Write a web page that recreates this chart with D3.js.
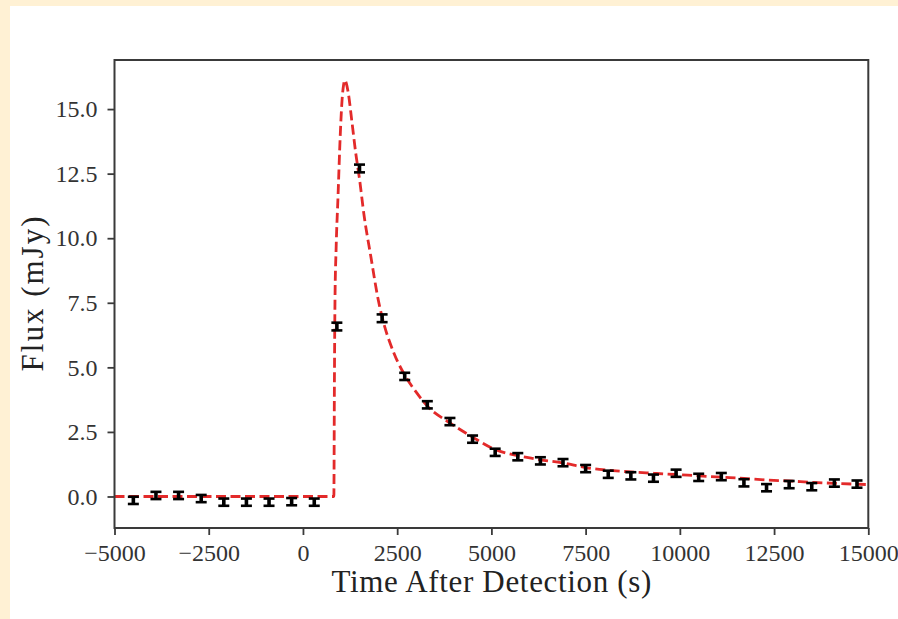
<!DOCTYPE html>
<html>
<head>
<meta charset="UTF-8">
<script src="https://d3js.org/d3.v7.min.js"></script>
<style>
  body { margin: 0; background: #fff1d4; }
  svg { display: block; }
  .tick text { font-family: "Liberation Serif", serif; font-size: 24px; fill: #333; }
  .tick line { stroke: #3a3a3a; stroke-width: 1.8; }
</style>
</head>
<body>
<div id="chart"></div>
<script>
// observed points (time in s after detection, flux in mJy, 1-sigma error)
var obsTime = [-4500, -3900, -3300, -2700, -2100, -1500, -900, -300, 300,
  900, 1500, 2100, 2700, 3300, 3900, 4500, 5100, 5700, 6300, 6900, 7500,
  8100, 8700, 9300, 9900, 10500, 11100, 11700, 12300, 12900, 13500, 14100, 14700];
var obsFlux = [-0.15, 0.04, 0.04, -0.08, -0.22, -0.22, -0.22, -0.2, -0.22,
  6.58, 12.7, 6.9, 4.65, 3.55, 2.9, 2.22, 1.71, 1.54, 1.38, 1.31, 1.08,
  0.86, 0.8, 0.71, 0.9, 0.74, 0.77, 0.53, 0.34, 0.46, 0.38, 0.52, 0.48];
var obsErr = [0.14, 0.14, 0.14, 0.14, 0.14, 0.14, 0.14, 0.14, 0.14,
  0.15, 0.15, 0.15, 0.14, 0.14, 0.14, 0.14, 0.14, 0.14, 0.14, 0.14, 0.14,
  0.14, 0.14, 0.14, 0.14, 0.14, 0.14, 0.14, 0.14, 0.14, 0.14, 0.14, 0.14];

// model curve
var modelTime = [-5000, 820, 835, 850, 880, 930, 990, 1040, 1080, 1115, 1150, 1200,
  1300, 1400, 1500, 1620, 1800, 2000, 2100, 2400, 2700, 3000, 3300, 3900, 4500,
  5100, 5700, 6300, 6900, 7500, 8100, 8700, 9300, 9900, 10500, 11100, 11700,
  12300, 12900, 13500, 14100, 15000];
var modelFlux = [0, 0, 4.5, 7.6, 9.6, 11.6, 14.0, 15.4, 15.95, 16.12, 16.0, 15.65,
  14.5, 13.3, 12.3, 10.9, 9.3, 7.6, 6.95, 5.6, 4.7, 4.05, 3.5, 2.85, 2.3,
  1.82, 1.58, 1.42, 1.3, 1.12, 1.02, 0.95, 0.9, 0.85, 0.8, 0.75, 0.7,
  0.64, 0.6, 0.55, 0.51, 0.46];

var xTicks = [-5000, -2500, 0, 2500, 5000, 7500, 10000, 12500, 15000];
var yTicks = [0, 2.5, 5, 7.5, 10, 12.5, 15];

var width = 898, height = 619;
var plotLeft = 114.5, plotRight = 868.3, plotTop = 60, plotBottom = 528;

var svg = d3.select("#chart").append("svg")
  .attr("width", width)
  .attr("height", height);

// white panel over the cream page
svg.append("rect")
  .attr("x", 10).attr("y", 6)
  .attr("width", width - 10).attr("height", height - 6)
  .attr("fill", "#ffffff");

var x = d3.scaleLinear().domain([-5000, 15000]).range([plotLeft, plotRight]);
var y = d3.scaleLinear().domain([-1.22, 16.9]).range([plotBottom, plotTop]);

svg.append("clipPath").attr("id", "plotclip")
  .append("rect")
  .attr("x", plotLeft).attr("y", plotTop)
  .attr("width", plotRight - plotLeft).attr("height", plotBottom - plotTop);

// axes
var xAxis = svg.append("g")
  .attr("transform", "translate(0," + plotBottom + ")")
  .call(d3.axisBottom(x).tickValues(xTicks).tickSize(7).tickPadding(9)
    .tickFormat(d3.format("d")));
xAxis.select(".domain").remove();
xAxis.selectAll(".tick text").attr("dy", "0.7em");

var yAxis = svg.append("g")
  .attr("transform", "translate(" + plotLeft + ",0)")
  .call(d3.axisLeft(y).tickValues(yTicks).tickSize(7).tickPadding(10)
    .tickFormat(d3.format(".1f")));
yAxis.select(".domain").remove();

// model line
var model = modelTime.map(function (t, i) { return [t, modelFlux[i]]; });
var line = d3.line()
  .x(function (d) { return x(d[0]); })
  .y(function (d) { return y(d[1]); })
  .curve(d3.curveMonotoneX);

svg.append("path")
  .datum(model)
  .attr("clip-path", "url(#plotclip)")
  .attr("d", line)
  .attr("fill", "none")
  .attr("stroke", "#e32a2a")
  .attr("stroke-width", 2.8)
  .attr("stroke-dasharray", "10,4.5");

// error bars
var pts = obsTime.map(function (t, i) {
  return { t: t, f: obsFlux[i], e: obsErr[i] };
});
var bars = svg.append("g").selectAll("g")
  .data(pts)
  .enter()
  .append("g");

bars.append("line")
  .attr("x1", function (d) { return x(d.t); })
  .attr("x2", function (d) { return x(d.t); })
  .attr("y1", function (d) { return y(d.f - d.e); })
  .attr("y2", function (d) { return y(d.f + d.e); })
  .attr("stroke", "#000")
  .attr("stroke-width", 3.6);

[-1, 1].forEach(function (s) {
  bars.append("line")
    .attr("x1", function (d) { return x(d.t) - 5.5; })
    .attr("x2", function (d) { return x(d.t) + 5.5; })
    .attr("y1", function (d) { return y(d.f + s * d.e); })
    .attr("y2", function (d) { return y(d.f + s * d.e); })
    .attr("stroke", "#000")
    .attr("stroke-width", 2.6);
});

// frame
svg.append("rect")
  .attr("x", plotLeft).attr("y", plotTop)
  .attr("width", plotRight - plotLeft).attr("height", plotBottom - plotTop)
  .attr("fill", "none")
  .attr("stroke", "#3a3a3a")
  .attr("stroke-width", 2);

// axis labels
svg.append("text")
  .attr("x", (plotLeft + plotRight) / 2)
  .attr("y", 592)
  .attr("text-anchor", "middle")
  .attr("textLength", 320)
  .style("font-family", "Liberation Serif, serif")
  .style("font-size", "31px")
  .style("fill", "#222")
  .text("Time After Detection (s)");

svg.append("text")
  .attr("transform", "translate(43," + ((plotTop + plotBottom) / 2) + ") rotate(-90)")
  .attr("text-anchor", "middle")
  .attr("textLength", 155)
  .style("font-family", "Liberation Serif, serif")
  .style("font-size", "31px")
  .style("fill", "#222")
  .text("Flux (mJy)");
</script>
</body>
</html>
